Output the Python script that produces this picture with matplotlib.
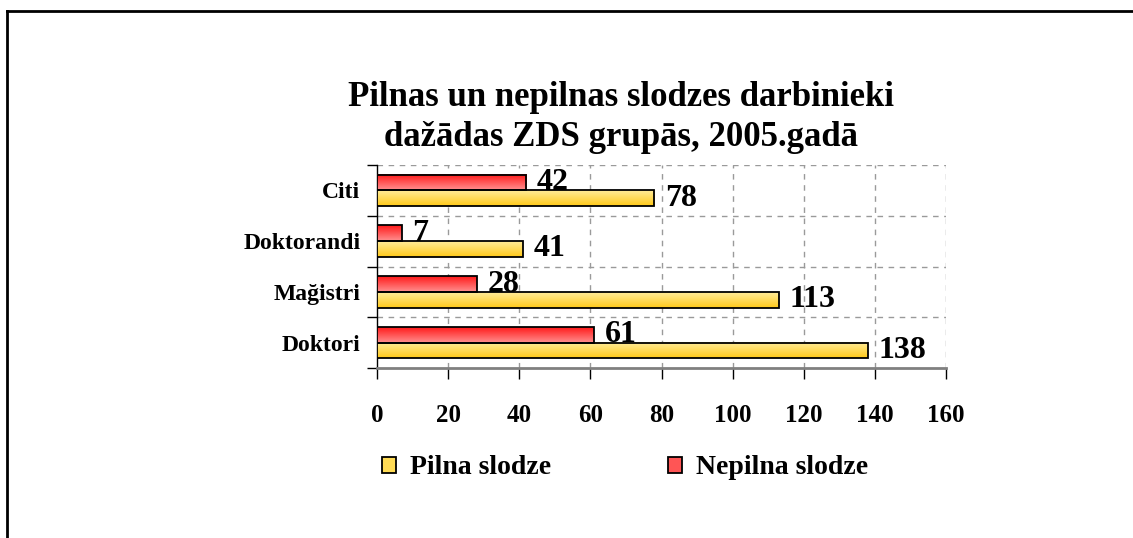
import numpy as np
import matplotlib
matplotlib.use("Agg")
import matplotlib.pyplot as plt
from matplotlib.patches import Rectangle, Patch
from matplotlib.colors import LinearSegmentedColormap

plt.rcParams['font.family'] = ['Liberation Serif', 'DejaVu Serif']
plt.rcParams['font.weight'] = 'bold'

# data (bottom to top)
categories = ['Doktori', 'Mağistri', 'Doktorandi', 'Citi']
pilna = [138, 113, 41, 78]
nepilna = [61, 28, 7, 42]
xticks = [0, 20, 40, 60, 80, 100, 120, 140, 160]

fig = plt.figure(figsize=(11.33, 5.38), dpi=100)

# outer frame (open at right and bottom)
fig.add_artist(plt.Line2D([7/1133, 7/1133], [0, 1 - 11/538], transform=fig.transFigure,
                          color='black', lw=2))
fig.add_artist(plt.Line2D([7/1133, 1], [1 - 11/538, 1 - 11/538], transform=fig.transFigure,
                          color='black', lw=2))

ax = fig.add_axes([377/1133, 1 - 368/538, 569/1133, 203/538])

y = np.arange(len(categories))
h = 0.31
red_cm = LinearSegmentedColormap.from_list('r', ['#ff1a1a', '#ff9090'])
yel_cm = LinearSegmentedColormap.from_list('y', ['#ffec99', '#ffc91a'])
grad = np.linspace(0, 1, 64).reshape(-1, 1)

for i in range(len(categories)):
    for val, yc, cm in [(nepilna[i], y[i] + h / 2, red_cm), (pilna[i], y[i] - h / 2, yel_cm)]:
        y0, y1 = yc - h / 2, yc + h / 2
        ax.imshow(grad, extent=[0, val, y0, y1], aspect='auto', cmap=cm,
                  origin='upper', zorder=3, interpolation='bilinear')
        ax.add_patch(Rectangle((0, y0), val, h, facecolor='none', edgecolor='black',
                               lw=1.3, zorder=4))
        ax.text(val + 3, yc, str(val), va='center', ha='left', fontsize=23,
                fontweight='bold', zorder=5)

ax.set_xlim(0, 160)
ax.set_ylim(-0.5, 3.5)

ax.set_xticks(xticks)
ax.set_xticklabels([str(t) for t in xticks], fontsize=18, fontweight='bold')
ax.tick_params(axis='x', length=8, width=1, color='black', pad=18)

ax.set_yticks(y)
ax.set_yticklabels(categories, fontsize=17, fontweight='bold')
ax.set_yticks(np.arange(-0.5, 4, 1), minor=True)
ax.tick_params(axis='y', which='major', length=0, pad=12)
ax.tick_params(axis='y', which='minor', length=7, width=1, color='black')

for t in xticks[1:]:
    ax.axvline(t, color='#9a9a9a', lw=1, ls=(0, (4, 4)), zorder=1)
for b in [0.5, 1.5, 2.5, 3.5]:
    ax.axhline(b, color='#9a9a9a', lw=1, ls=(0, (4, 4)), zorder=1)

for s in ['top', 'right']:
    ax.spines[s].set_visible(False)
ax.spines['left'].set_color('black')
ax.spines['left'].set_linewidth(1)
ax.spines['bottom'].set_color('#808080')
ax.spines['bottom'].set_linewidth(2)

fig.text(621/1133, 1 - 98/538, 'Pilnas un nepilnas slodzes darbinieki',
         ha='center', va='center', fontsize=25, fontweight='bold')
fig.text(621/1133, 1 - 137/538, 'dažādas ZDS grupās, 2005.gadā',
         ha='center', va='center', fontsize=25, fontweight='bold')

handles = [Patch(facecolor='#ffdb55', edgecolor='black', lw=1.3),
           Patch(facecolor='#ff5555', edgecolor='black', lw=1.3)]
fig.legend(handles, ['Pilna slodze', 'Nepilna slodze'], loc='center',
           bbox_to_anchor=(625/1133, 1 - 468/538), ncol=2, frameon=False,
           prop={'size': 20, 'weight': 'bold'}, handlelength=0.5, handleheight=0.5,
           handletextpad=0.5, columnspacing=4.2)

fig.savefig('out.png', dpi=100)
